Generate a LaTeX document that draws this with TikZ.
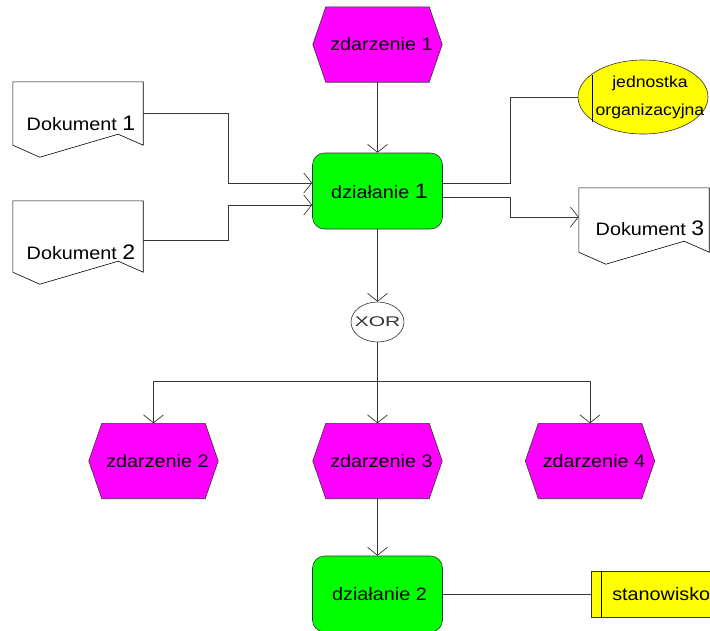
\documentclass[tikz,border=0pt]{standalone}
\usepackage{fontspec}
\setmainfont{Liberation Sans}
\usepackage{graphicx}
\usetikzlibrary{arrows.meta,backgrounds,shapes.geometric}
\definecolor{evmag}{RGB}{255,0,255}
\definecolor{fngreen}{RGB}{0,255,0}
\definecolor{orgyel}{RGB}{255,255,0}
\definecolor{linegray}{RGB}{55,55,55}
\newcommand\st[1]{\scalebox{1.1}[1]{#1}}
\newcommand\dg[1]{{\fontsize{21}{21}\selectfont #1}}
\begin{document}
\begin{tikzpicture}[x=1pt,y=-1pt,
  lbl/.style={font=\fontsize{18}{20}\selectfont, inner sep=0pt},
  evbox/.style={lbl, minimum width=129pt, minimum height=75pt},
  evshape/.style={fill=evmag, draw=black!80, line width=0.6pt},
  fnbox/.style={lbl, draw=black!80, fill=fngreen, rounded corners=12pt, minimum width=130pt, minimum height=76pt, line width=0.6pt},
  docbody/.style={inner sep=0pt, minimum width=130pt},
  docshape/.style={fill=white, draw=black, line width=0.6pt},
  conn/.style={draw=linegray, line width=0.7pt},
  arr/.style={conn, -{Straight Barb[length=8pt,width=20pt]}},
]
\useasboundingbox (0,0) rectangle (710,630);

% events
\node[evbox] (z1) at (377.5,44.5) {\hspace*{8pt}\st{zdarzenie 1}};
\node[evbox] (z2) at (153.5,461) {\hspace*{8pt}\st{zdarzenie 2}};
\node[evbox] (z3) at (377.5,461) {\hspace*{8pt}\st{zdarzenie 3}};
\node[evbox] (z4) at (590,461) {\hspace*{8pt}\st{zdarzenie 4}};

% functions
\node[fnbox] (d1) at (377.5,191) {\hspace*{4pt}\st{działanie \dg{1}}};
\node[fnbox] (d2) at (377.5,594) {\hspace*{4pt}\st{działanie 2}};

% documents
\node[docbody, minimum height=63pt] (doc1) at (78,113.5) {};
\node[lbl] (doc1t) at (81,123) {\st{Dokument \dg{1}}};
\node[docbody, minimum height=71pt] (doc2) at (78,236.5) {};
\node[lbl] (doc2t) at (81,252) {\st{Dokument \dg{2}}};
\node[docbody, minimum height=64pt] (doc3) at (644,220) {};
\node[lbl] (doc3t) at (650,228) {\st{Dokument \dg{3}}};

% organisational unit
\node[ellipse, draw=black!80, fill=orgyel, minimum width=130pt, minimum height=74pt, inner sep=0pt, line width=0.6pt] (org) at (643,97) {};
\node[font=\fontsize{16}{28}\selectfont, align=center, inner sep=0pt] (orgt) at (650,97) {\st{jednostka}\\\st{organizacyjna}};
\draw[line width=0.6pt] ([xshift=15pt,yshift=22pt]org.west) -- ([xshift=15pt,yshift=-25pt]org.west);

% position
\node[lbl, draw=black!80, fill=orgyel, anchor=west, minimum height=46pt, line width=0.6pt] (stan) at (591,594) {\hspace*{21pt}\st{stanowisko}\hspace*{20pt}};
\draw[line width=0.6pt] ([xshift=10pt]stan.north west) -- ([xshift=10pt]stan.south west);

% XOR
\node[ellipse, draw=black!80, fill=white, minimum width=53pt, minimum height=40pt, inner sep=0pt, line width=0.6pt] (xor) at (377.5,322) {};
\node[font=\fontsize{14}{14}\selectfont, text=black!80, inner sep=0pt] (xort) at (377.5,322) {\scalebox{1.5}[1]{XOR}};

% connectors
\draw[arr] (z1.south) -- (d1.north);
\draw[arr] (d1.south) -- (xor.north);
\coordinate (split) at (377.5,381);
\draw[conn] (xor.south) -- (split);
\draw[arr] (split) -| (z2.north);
\draw[arr] (split) -| (z4.north);
\draw[arr] (split) -- (z3.north);
\draw[arr] (z3.south) -- (d2.north);
\draw[conn] (d2.east) -- (stan.west);
\draw[arr] (doc1.east) -- ++(85,0) |- ([yshift=8pt]d1.west);
\draw[arr] ([yshift=-3.5pt]doc2.east) -- ++(85,0) |- ([yshift=-14pt]d1.west);
\draw[conn] ([yshift=8pt]d1.east) -- ++(68,0) |- (org.west);
\draw[arr] ([yshift=-6pt]d1.east) -- ++(68,0) |- ([yshift=3pt]doc3.west);

% shapes behind
\begin{scope}[on background layer]
\foreach \n in {z1,z2,z3,z4}
  \draw[evshape] (\n.west) -- ([xshift=13pt]\n.north west) -- ([xshift=-13pt]\n.north east) -- (\n.east) -- ([xshift=-13pt]\n.south east) -- ([xshift=13pt]\n.south west) -- cycle;
\foreach \n in {doc1,doc2,doc3}
  \draw[docshape] (\n.north west) -- (\n.north east) -- (\n.south east) -- ([xshift=-25pt,yshift=11pt]\n.south east) -- ([xshift=27pt,yshift=-12pt]\n.south west) -- (\n.south west) -- cycle;
\end{scope}
\end{tikzpicture}
\end{document}
